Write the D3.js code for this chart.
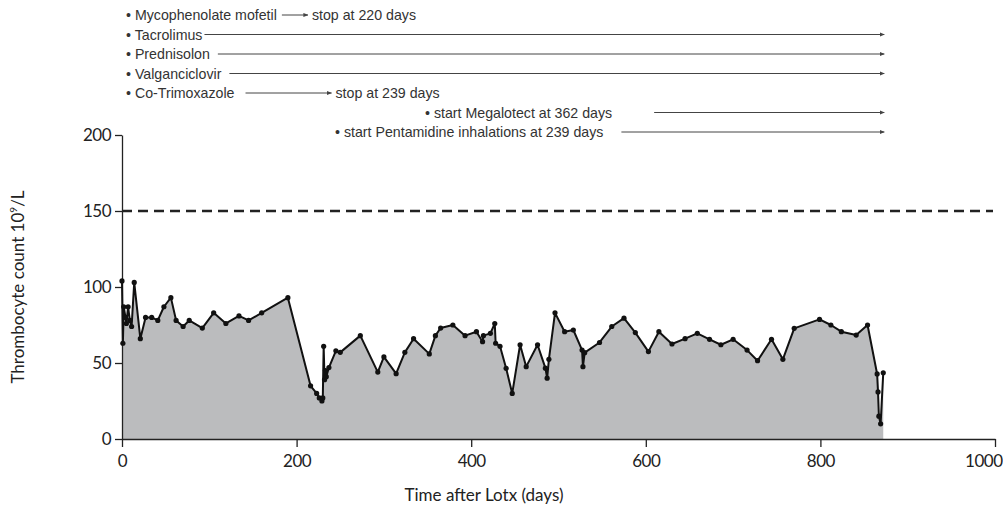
<!DOCTYPE html>
<html>
<head>
<meta charset="utf-8">
<script src="https://cdn.jsdelivr.net/npm/d3@7"></script>
<style>
  body { margin: 0; background: #fff; }
  .axis text { font-family: Lato, "Open Sans", sans-serif; font-weight: 400; font-size: 17px; fill: #222; letter-spacing: -0.5px; }
  .axis path, .axis line { stroke: #222; stroke-width: 1.3; }
  .note { font-family: "Liberation Sans", Arial, sans-serif; font-size: 14.2px; fill: #333; }
  .title { font-family: Lato, "Open Sans", sans-serif; font-weight: 400; font-size: 17px; fill: #222; }
</style>
</head>
<body>
<script>
// days after transplant and thrombocyte counts (10^9/L)
var days = [0, 1, 2, 4, 5, 7, 9, 11, 14, 21, 27, 34, 41, 48, 56, 62, 70, 77, 92, 105,
  119, 134, 145, 160, 190, 216, 223, 226, 229, 230, 231, 232, 233, 234, 237, 245, 250, 273,
  293, 300, 314, 324, 334, 352, 359, 365, 379, 393, 406, 413, 414, 422, 427, 428, 433,
  440, 447, 456, 463, 476, 485, 487, 489, 496, 507, 517, 527, 528, 530, 547, 561, 575,
  588, 603, 615, 630, 645, 659, 673, 686, 700, 716, 728, 744, 757, 770, 799, 812, 824,
  841, 854, 865, 866, 867, 869, 872];
var counts = [104, 63, 87, 80, 76, 87, 78, 74, 103, 66, 80, 80, 78, 87, 93, 78, 74, 78, 73, 83,
  76, 81, 78, 83, 93, 35, 30, 27, 25, 27, 61, 39, 45, 41, 47, 58, 57, 68,
  44, 54, 43, 57, 66, 56, 68, 73, 75, 68, 70.6, 64, 68, 69.5, 76, 63, 61,
  46.5, 30, 62, 47.6, 62, 46.6, 40, 52.4, 83, 70.6, 71.7, 58.5, 47.6, 56.8, 63.5, 74, 79.5,
  70, 57.5, 70.6, 62.5, 66, 69.5, 65.6, 62, 65.6, 58.5, 51.5, 65.6, 52.4, 72.8, 78.7, 75, 70.6,
  68.4, 75, 42.8, 31, 15, 10, 43.6];

var xTicks = [0, 200, 400, 600, 800, 1000];
var yTicks = [0, 50, 100, 150, 200];
var normalLimit = 150;

// medication notes above the chart
var noteText = ["• Mycophenolate mofetil", "• Tacrolimus", "• Prednisolon", "• Valganciclovir",
  "• Co-Trimoxazole", "• start Megalotect at 362 days", "• start Pentamidine inhalations at 239 days"];
var noteStop = ["stop at 220 days", null, null, null, "stop at 239 days", null, null];

var width = 1003, height = 519;
var margin = {left: 122, top: 135, right: 8, bottom: 80};

var svg = d3.select("body").append("svg")
    .attr("width", width)
    .attr("height", height);

var x = d3.scaleLinear().domain([0, 1000]).range([margin.left, 995]);
var y = d3.scaleLinear().domain([0, 200]).range([439, margin.top]);

var data = days.map(function(d, i) { return {day: d, value: counts[i]}; });

//Area under the curve
var area = d3.area()
    .x(function(d) { return x(d.day); })
    .y0(y(0))
    .y1(function(d) { return y(d.value); });

svg.append("path")
    .datum(data)
    .attr("fill", "#bbbcbe")
    .attr("d", area);

//Normal limit line
svg.append("line")
    .attr("x1", x(0)).attr("x2", x(1000) - 2)
    .attr("y1", y(normalLimit)).attr("y2", y(normalLimit))
    .attr("stroke", "#222")
    .attr("stroke-width", 2.5)
    .attr("stroke-dasharray", "10,6");

//Axes
var xAxis = svg.append("g")
    .attr("class", "axis")
    .attr("transform", "translate(0," + y(0) + ")")
    .call(d3.axisBottom(x).tickValues(xTicks).tickFormat(d3.format("d"))
      .tickSize(8).tickSizeOuter(0).tickPadding(8));

//keep the last label inside the picture
xAxis.selectAll(".tick text")
    .filter(function(d) { return d === 1000; })
    .attr("text-anchor", "end")
    .attr("dx", 7);

svg.append("g")
    .attr("class", "axis")
    .attr("transform", "translate(" + x(0) + ",0)")
    .call(d3.axisLeft(y).tickValues(yTicks).tickSize(7).tickSizeOuter(0).tickPadding(4));

//Line and points
var line = d3.line()
    .x(function(d) { return x(d.day); })
    .y(function(d) { return y(d.value); });

svg.append("path")
    .datum(data)
    .attr("fill", "none")
    .attr("stroke", "#111")
    .attr("stroke-width", 2)
    .attr("stroke-linejoin", "round")
    .attr("d", line);

svg.append("g")
    .selectAll("circle")
    .data(data)
    .enter().append("circle")
    .attr("cx", function(d) { return x(d.day); })
    .attr("cy", function(d) { return y(d.value); })
    .attr("r", 2.6)
    .attr("fill", "#111");

//Axis titles
svg.append("text")
    .attr("class", "title")
    .attr("x", 484).attr("y", 501)
    .attr("text-anchor", "middle")
    .text("Time after Lotx (days)");

var yt = svg.append("text")
    .attr("class", "title")
    .attr("transform", "translate(24,287) rotate(-90)")
    .attr("text-anchor", "middle");
yt.append("tspan").text("Thrombocyte count 10");
yt.append("tspan").attr("font-size", "10px").attr("dy", -7).text("9");
yt.append("tspan").attr("dy", 7).text("/L");

//Medication notes
svg.append("defs").append("marker")
    .attr("id", "arr")
    .attr("viewBox", "0 0 10 10")
    .attr("refX", 9).attr("refY", 5)
    .attr("markerWidth", 5).attr("markerHeight", 5)
    .attr("orient", "auto")
    .append("path").attr("d", "M0,1L10,5L0,9z").attr("fill", "#444");

var noteX = [126, 126, 126, 126, 126, 425, 335];
var lineGap = [5, 2, 8, 8, 11, 42, 18];
var stopLen = [26, 0, 0, 0, 86, 0, 0];
var arrowEnd = x(872) + 1;

noteText.forEach(function(t, i) {
  var ty = 19.5 * i + 20;
  var txt = svg.append("text")
      .attr("class", "note")
      .attr("x", noteX[i]).attr("y", ty)
      .text(t);
  var end = noteX[i] + txt.node().getComputedTextLength();
  var x1 = end + lineGap[i];
  var x2 = noteStop[i] ? x1 + stopLen[i] : arrowEnd;
  svg.append("line")
      .attr("x1", x1).attr("x2", x2)
      .attr("y1", ty - 5).attr("y2", ty - 5)
      .attr("stroke", "#444")
      .attr("stroke-width", 1)
      .attr("marker-end", "url(#arr)");
  if (noteStop[i]) {
    svg.append("text")
        .attr("class", "note")
        .attr("x", x2 + 4).attr("y", ty)
        .text(noteStop[i]);
  }
});
</script>
</body>
</html>
